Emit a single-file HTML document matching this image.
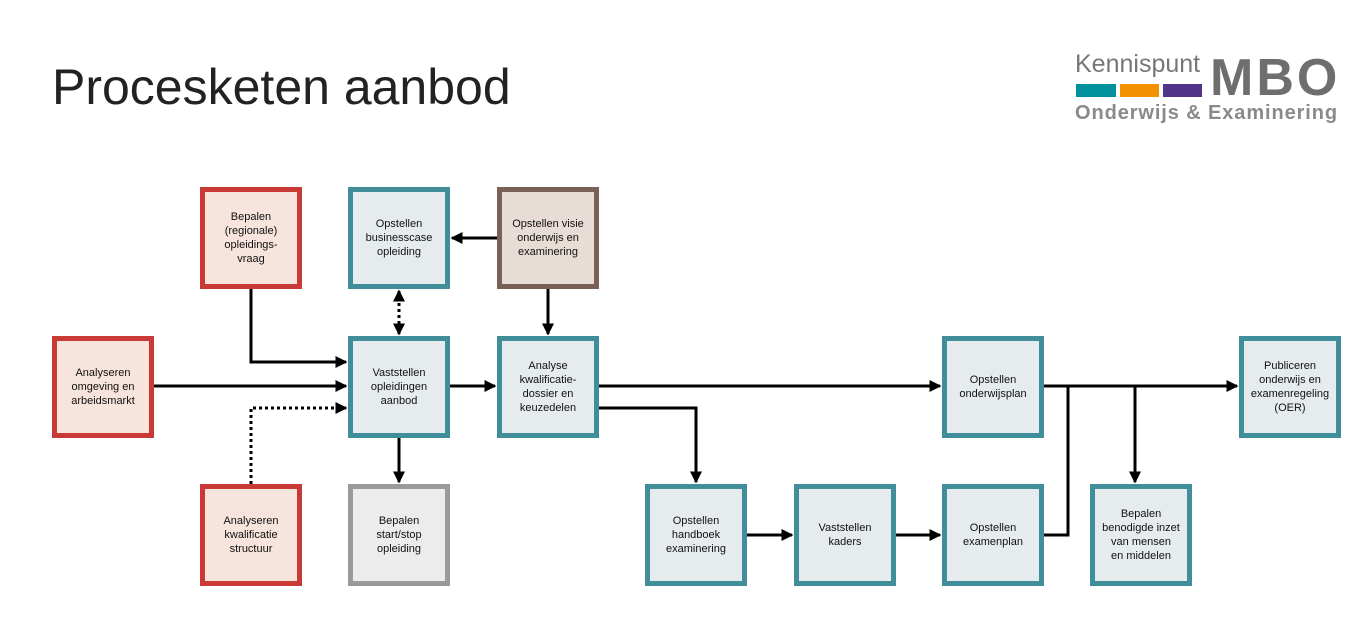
<!DOCTYPE html>
<html><head><style>
body{margin:0;width:1357px;height:618px;background:#fff;position:relative;overflow:hidden;font-family:"Liberation Sans",sans-serif}
.b{position:absolute;width:92px;height:92px;border:5px solid;display:flex;align-items:center;justify-content:center;text-align:center;font-size:11px;line-height:14px;color:#111}
.r{border-color:#c93a36;background:#f7e4dc}
.t{border-color:#3f8e99;background:#e6ecee}
.w{border-color:#7a6158;background:#e8ddd6}
.g{border-color:#9a9a9a;background:#ececec}
</style></head><body>
<div style="position:absolute;left:52px;top:58px;font-size:50px;color:#222">Procesketen aanbod</div>
<div style="position:absolute;left:1075px;top:50px;font-size:25px;color:#777">Kennispunt</div>
<div style="position:absolute;left:1210px;top:48px;font-size:52px;font-weight:bold;color:#6e6e6e;letter-spacing:3px;line-height:60px">MBO</div>
<div style="position:absolute;left:1076px;top:84px;width:40px;height:13px;background:#00919c"></div>
<div style="position:absolute;left:1120px;top:84px;width:39px;height:13px;background:#f39200"></div>
<div style="position:absolute;left:1163px;top:84px;width:39px;height:13px;background:#51348a"></div>
<div style="position:absolute;left:1075px;top:102px;font-size:20px;font-weight:bold;color:#8a8a8a;letter-spacing:0.9px">Onderwijs &amp; Examinering</div>
<svg width="1357" height="618" style="position:absolute;left:0;top:0">
<defs><marker id="a" markerWidth="4" markerHeight="4" refX="3.5" refY="2" orient="auto" markerUnits="strokeWidth"><path d="M0,0L4,2L0,4z" fill="#000"/></marker>
<marker id="s" markerWidth="4" markerHeight="4" refX="0.5" refY="2" orient="auto" markerUnits="strokeWidth"><path d="M4,0L0,2L4,4z" fill="#000"/></marker></defs>
<g stroke="#000" stroke-width="3" fill="none">
<path d="M251 289V362H346" marker-end="url(#a)"/>
<path d="M154 386H346" marker-end="url(#a)"/>
<path d="M251 484V408H346" stroke-dasharray="3,3" marker-end="url(#a)"/>
<path d="M399 291V334" stroke-dasharray="3,3" marker-end="url(#a)" marker-start="url(#s)"/>
<path d="M497 238H452" marker-end="url(#a)"/>
<path d="M548 289V334" marker-end="url(#a)"/>
<path d="M450 386H495" marker-end="url(#a)"/>
<path d="M399 438V482" marker-end="url(#a)"/>
<path d="M599 386H940" marker-end="url(#a)"/>
<path d="M599 408H696V482" marker-end="url(#a)"/>
<path d="M747 535H792" marker-end="url(#a)"/>
<path d="M896 535H940" marker-end="url(#a)"/>
<path d="M1044 386H1237" marker-end="url(#a)"/>
<path d="M1044 535H1068V386"/>
<path d="M1135 386V482" marker-end="url(#a)"/>
</g></svg>
<div class="b r" style="left:200px;top:187px">Bepalen<br>(regionale)<br>opleidings-<br>vraag</div>
<div class="b t" style="left:348px;top:187px">Opstellen<br>businesscase<br>opleiding</div>
<div class="b w" style="left:497px;top:187px">Opstellen visie<br>onderwijs en<br>examinering</div>
<div class="b r" style="left:52px;top:336px">Analyseren<br>omgeving en<br>arbeidsmarkt</div>
<div class="b t" style="left:348px;top:336px">Vaststellen<br>opleidingen<br>aanbod</div>
<div class="b t" style="left:497px;top:336px">Analyse<br>kwalificatie-<br>dossier en<br>keuzedelen</div>
<div class="b t" style="left:942px;top:336px">Opstellen<br>onderwijsplan</div>
<div class="b t" style="left:1239px;top:336px">Publiceren<br>onderwijs en<br>examenregeling<br>(OER)</div>
<div class="b r" style="left:200px;top:484px">Analyseren<br>kwalificatie<br>structuur</div>
<div class="b g" style="left:348px;top:484px">Bepalen<br>start/stop<br>opleiding</div>
<div class="b t" style="left:645px;top:484px">Opstellen<br>handboek<br>examinering</div>
<div class="b t" style="left:794px;top:484px">Vaststellen<br>kaders</div>
<div class="b t" style="left:942px;top:484px">Opstellen<br>examenplan</div>
<div class="b t" style="left:1090px;top:484px">Bepalen<br>benodigde inzet<br>van mensen<br>en middelen</div>
</body></html>
